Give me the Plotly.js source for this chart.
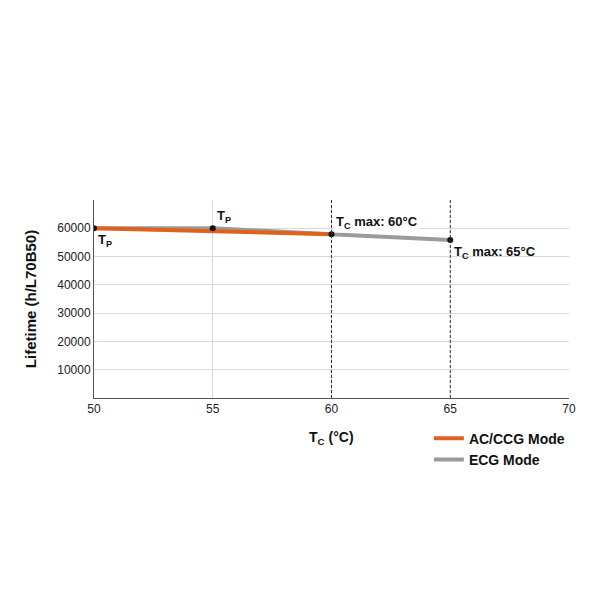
<!DOCTYPE html>
<html><head><meta charset="utf-8">
<script src="https://cdn.plot.ly/plotly-3.0.1.min.js"></script>
<style>body{margin:0;background:#fff}#c{width:600px;height:600px}</style>
</head><body><div id="c"></div>
<script>
const acTemp = [50, 60];
const acLife = [60000, 57900];
const ecgTemp = [50, 55, 60, 65];
const ecgLife = [60000, 60000, 57900, 55900];
const pointTemp = [50, 55, 60, 65];
const pointLife = [60000, 60000, 57900, 55900];
const xTicks = [50, 55, 60, 65, 70];
const yTicks = [10000, 20000, 30000, 40000, 50000, 60000];
const yTickText = ['10000','20000','30000','40000','50000','60000'];
const tcMaxLines = [60, 65];
const labels = [
  {x: 50, y: 60000, text: 'T<sub>P</sub>', pos: 'below'},
  {x: 55, y: 60000, text: 'T<sub>P</sub>', pos: 'above'},
  {x: 60, y: 57900, text: 'T<sub>C</sub> max: 60°C', pos: 'above'},
  {x: 65, y: 55900, text: 'T<sub>C</sub> max: 65°C', pos: 'below'}
];

const F = 'Liberation Sans, Arial, Helvetica, sans-serif';
const traces = [
  {x: ecgTemp, y: ecgLife, mode: 'lines', name: 'ECG Mode', line: {color: '#9b9b9b', width: 4}, legendrank: 2},
  {x: acTemp, y: acLife, mode: 'lines', name: 'AC/CCG Mode', line: {color: '#e0601c', width: 4}, legendrank: 1},
  {x: pointTemp, y: pointLife, mode: 'markers', showlegend: false, marker: {color: '#111', size: 6}}
];
const shapes = tcMaxLines.map(v => ({type: 'line', xref: 'x', yref: 'paper', x0: v, x1: v, y0: 0, y1: 1,
  line: {color: '#333', width: 1, dash: '3px,2px'}}));
const annotations = labels.map(l => ({x: l.x, y: l.y, xref: 'x', yref: 'y', text: l.text, showarrow: false,
  xanchor: 'left', yanchor: l.pos === 'below' ? 'top' : 'bottom', xshift: 2, yshift: l.pos === 'below' ? -2 : 1,
  bgcolor: l.pos === 'above' && l.x === 60 ? '#fff' : 'rgba(0,0,0,0)',
  font: {family: F, size: 13, color: '#111', weight: 'bold'}}));
annotations.push({xref: 'paper', yref: 'paper', x: 0.5, y: -0.145, xanchor: 'center', yanchor: 'top', showarrow: false,
  text: 'T<sub>C</sub> (°C)', font: {family: F, size: 14, color: '#111', weight: 'bold'}});

const layout = {
  width: 600, height: 600,
  margin: {l: 94, r: 31, t: 200, b: 202},
  paper_bgcolor: '#fff', plot_bgcolor: '#fff',
  showlegend: true,
  legend: {x: 0.705, y: -0.125, xanchor: 'left', yanchor: 'top', font: {family: F, size: 14, color: '#111', weight: 'bold'},
    tracegroupgap: 0, itemwidth: 30, bgcolor: 'rgba(0,0,0,0)'},
  xaxis: {range: [50, 70], tickvals: xTicks, showgrid: true, gridcolor: '#d9d9d9', zeroline: false,
    showline: true, linecolor: '#555', linewidth: 1, ticks: '', tickfont: {family: F, size: 12, color: '#222'}, fixedrange: true},
  yaxis: {range: [0, 70000], tickvals: yTicks, ticktext: yTickText, showgrid: true, gridcolor: '#d9d9d9', zeroline: false,
    showline: true, linecolor: '#555', linewidth: 1, ticks: '', tickfont: {family: F, size: 12, color: '#222'},
    title: {text: 'Lifetime (h/L70B50)', font: {family: F, size: 15, color: '#111', weight: 'bold'}, standoff: 16}},
  shapes: shapes,
  annotations: annotations
};
Plotly.newPlot('c', traces, layout, {displayModeBar: false, staticPlot: true});
</script></body></html>
